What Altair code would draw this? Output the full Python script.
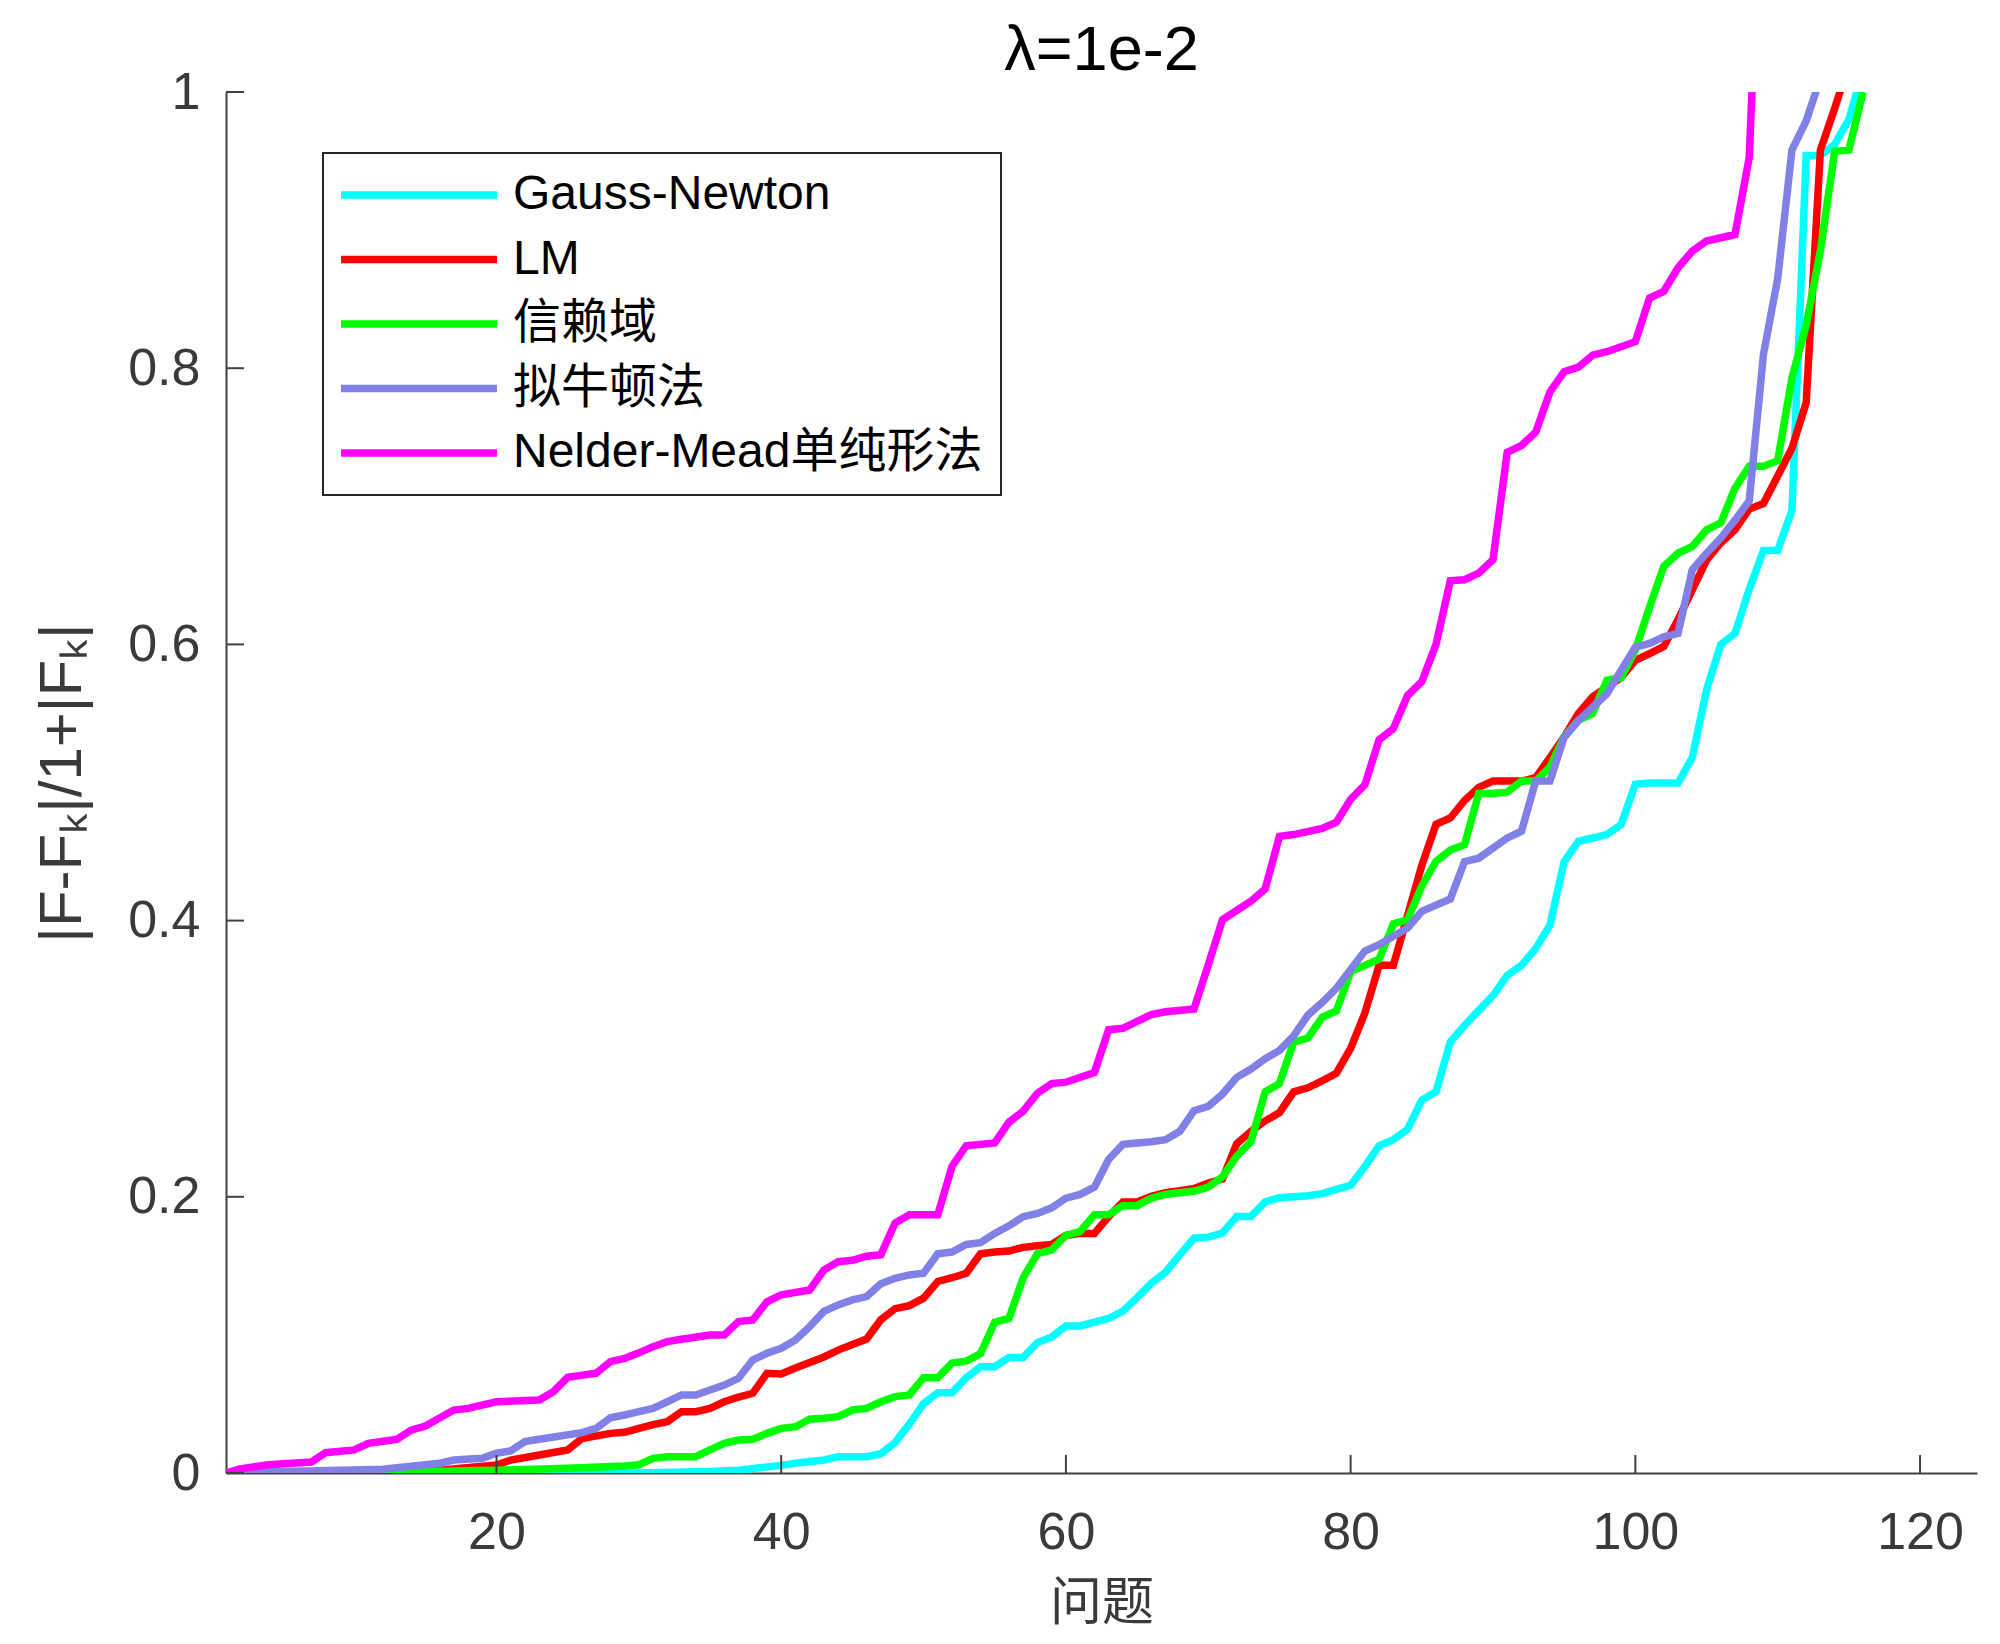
import altair as alt
import pandas as pd

TITLE = "λ=1e-2"
X_TITLE = "问题"
Y_TITLE = "|F-Fₖ|/1+|Fₖ|"
NAMES = ["Gauss-Newton", "LM", "信赖域", "拟牛顿法", "Nelder-Mead单纯形法"]
COLORS = ["#00FFFF", "#FF0000", "#00FF00", "#8080E6", "#FF00FF"]
X_DOMAIN = [1, 124]
Y_DOMAIN = [0, 1]
X_TICKS = [20, 40, 60, 80, 100, 120]
Y_TICKS = [0, 0.2, 0.4, 0.6, 0.8, 1]

GN = [(1, 0), (30, 0), (35, 0.001), (37, 0.002), (40, 0.0055), (41, 0.007), (43, 0.0094),
      (44, 0.0118), (46, 0.0118), (47, 0.014), (48, 0.022), (49, 0.0354), (50, 0.0502),
      (51, 0.0582), (52, 0.0582), (53, 0.069), (54, 0.077), (55, 0.077), (56, 0.0837),
      (57, 0.0837), (58, 0.0944), (59, 0.0985), (60, 0.1065), (61, 0.1065), (62, 0.1092),
      (63, 0.1119), (64, 0.1172), (65, 0.127), (66, 0.1374), (67, 0.1454), (68, 0.158),
      (69, 0.170), (70, 0.1708), (71, 0.1738), (72, 0.1858), (73, 0.1858), (74, 0.1963),
      (75, 0.1993), (77, 0.2008), (78, 0.2023), (79, 0.2054), (80, 0.2083), (81, 0.2219),
      (82, 0.2369), (83, 0.2414), (84, 0.2489), (85, 0.270), (86, 0.276), (87, 0.312),
      (88, 0.324), (89, 0.335), (90, 0.3457), (91, 0.3603), (92, 0.3676), (93, 0.3797),
      (94, 0.3967), (95, 0.4428), (96, 0.4574), (97, 0.4598), (98, 0.4623), (99, 0.4695),
      (100, 0.4987), (101, 0.4996), (103, 0.4996), (104, 0.5181), (105, 0.567), (106, 0.600),
      (107, 0.608), (108, 0.64), (109, 0.668), (110, 0.668), (111, 0.697), (112, 0.954),
      (113, 0.954), (114, 0.962), (115, 0.98), (116, 1.016)]

LM = [(1, 0), (15, 0.001), (16, 0.002), (20, 0.0058), (21, 0.0094), (23, 0.013), (25, 0.0167),
      (26, 0.025), (28, 0.0287), (29, 0.0295), (30, 0.0323), (31, 0.035), (32, 0.0372),
      (33, 0.0444), (34, 0.0444), (35, 0.0468), (36, 0.0516), (37, 0.055), (38, 0.0577),
      (39, 0.0722), (40, 0.0717), (41, 0.076), (42, 0.080), (43, 0.084), (44, 0.089),
      (45, 0.093), (46, 0.097), (47, 0.111), (48, 0.119), (49, 0.1212), (50, 0.1266),
      (51, 0.1387), (52, 0.1414), (53, 0.1446), (54, 0.1588), (55, 0.160), (56, 0.1607),
      (57, 0.1634), (58, 0.1645), (59, 0.1655), (60, 0.172), (61, 0.1735), (62, 0.1735),
      (63, 0.1856), (64, 0.1963), (65, 0.1963), (66, 0.2004), (67, 0.203), (68, 0.2045),
      (69, 0.206), (70, 0.2099), (71, 0.2129), (72, 0.2384), (73, 0.2474), (74, 0.255),
      (75, 0.2609), (76, 0.276), (77, 0.2789), (78, 0.284), (79, 0.2895), (80, 0.3075),
      (81, 0.333), (82, 0.3676), (83, 0.3676), (84, 0.4036), (85, 0.44), (86, 0.4697),
      (87, 0.4743), (88, 0.487), (89, 0.4965), (90, 0.501), (91, 0.501), (92, 0.501),
      (93, 0.5035), (94, 0.518), (95, 0.533), (96, 0.55), (97, 0.562), (98, 0.569),
      (99, 0.576), (100, 0.5885), (101, 0.5934), (102, 0.5985), (103, 0.618), (104, 0.6395),
      (105, 0.661), (106, 0.6735), (107, 0.683), (108, 0.698), (109, 0.702), (110, 0.722),
      (111, 0.742), (112, 0.775), (113, 0.958), (114, 0.988), (115, 1.02)]

TR = [(1, 0), (10, 0), (15, 0.001), (20, 0.002), (25, 0.0035), (29, 0.005), (30, 0.006),
      (31, 0.0106), (32, 0.0118), (34, 0.0118), (35, 0.0167), (36, 0.0215), (37, 0.0239),
      (38, 0.0244), (39, 0.0287), (40, 0.0323), (41, 0.0335), (42, 0.0389), (43, 0.0396),
      (44, 0.0408), (45, 0.0456), (46, 0.0468), (47, 0.0516), (48, 0.0553), (49, 0.0565),
      (50, 0.069), (51, 0.069), (52, 0.0797), (53, 0.081), (54, 0.0864), (55, 0.1092),
      (56, 0.1119), (57, 0.1414), (58, 0.1588), (59, 0.1615), (60, 0.172), (61, 0.1749),
      (62, 0.187), (63, 0.187), (64, 0.1936), (65, 0.1936), (66, 0.199), (67, 0.2017),
      (68, 0.203), (69, 0.204), (70, 0.207), (71, 0.2144), (72, 0.2294), (73, 0.2399),
      (74, 0.276), (75, 0.282), (76, 0.312), (77, 0.315), (78, 0.330), (79, 0.3345),
      (80, 0.363), (81, 0.3676), (82, 0.372), (83, 0.3976), (84, 0.4006), (85, 0.425),
      (86, 0.443), (87, 0.451), (88, 0.455), (89, 0.492), (90, 0.492), (91, 0.493),
      (92, 0.501), (93, 0.501), (94, 0.511), (95, 0.533), (96, 0.545), (97, 0.55),
      (98, 0.574), (99, 0.576), (100, 0.596), (101, 0.627), (102, 0.6565), (103, 0.666),
      (104, 0.671), (105, 0.683), (106, 0.688), (107, 0.713), (108, 0.729), (109, 0.729),
      (110, 0.733), (111, 0.793), (112, 0.831), (113, 0.885), (114, 0.957), (115, 0.958),
      (116, 1.0)]

QN = [(1, 0), (12, 0.0027), (16, 0.007), (17, 0.0094), (19, 0.0106), (20, 0.0143), (21, 0.016),
      (22, 0.0227), (23, 0.0244), (26, 0.0292), (27, 0.0323), (28, 0.040), (29, 0.042),
      (30, 0.0445), (31, 0.0468), (32, 0.0516), (33, 0.0565), (34, 0.0565), (35, 0.0601),
      (36, 0.0637), (37, 0.0686), (38, 0.0818), (39, 0.0867), (40, 0.0903), (41, 0.0963),
      (42, 0.106), (43, 0.117), (44, 0.1217), (45, 0.1253), (46, 0.1277), (47, 0.137),
      (48, 0.141), (49, 0.1434), (50, 0.1446), (51, 0.1588), (52, 0.160), (53, 0.1655),
      (54, 0.1668), (55, 0.1735), (56, 0.179), (57, 0.1856), (58, 0.188), (59, 0.192),
      (60, 0.199), (61, 0.2017), (62, 0.207), (63, 0.227), (64, 0.238), (65, 0.239),
      (66, 0.2399), (67, 0.2414), (68, 0.2474), (69, 0.2624), (70, 0.2655), (71, 0.2744),
      (72, 0.2865), (73, 0.2925), (74, 0.300), (75, 0.306), (76, 0.3165), (77, 0.3316),
      (78, 0.3406), (79, 0.351), (80, 0.3646), (81, 0.378), (82, 0.3826), (83, 0.3886),
      (84, 0.3946), (85, 0.4067), (86, 0.4112), (87, 0.4156), (88, 0.4427), (89, 0.4452),
      (90, 0.4525), (91, 0.4598), (92, 0.4647), (93, 0.501), (94, 0.501), (95, 0.5327),
      (96, 0.5448), (97, 0.5545), (98, 0.5642), (99, 0.5812), (100, 0.598), (101, 0.6007),
      (102, 0.6055), (103, 0.608), (104, 0.654), (105, 0.666), (106, 0.677), (107, 0.69),
      (108, 0.704), (109, 0.81), (110, 0.865), (111, 0.958), (112, 0.979), (113, 1.01)]

NM = [(1, 0), (2, 0.003), (4, 0.006), (7, 0.008), (8, 0.0147), (10, 0.0167), (11, 0.0215),
      (13, 0.0244), (14, 0.031), (15, 0.034), (17, 0.0456), (18, 0.0468), (20, 0.0516),
      (23, 0.0529), (24, 0.0589), (25, 0.0693), (27, 0.0722), (28, 0.0806), (29, 0.083),
      (30, 0.087), (31, 0.0915), (32, 0.0951), (33, 0.0968), (35, 0.0999), (36, 0.0999),
      (37, 0.1096), (38, 0.1108), (39, 0.124), (40, 0.129), (42, 0.1325), (43, 0.147),
      (44, 0.153), (45, 0.154), (46, 0.157), (47, 0.158), (48, 0.181), (49, 0.187),
      (51, 0.187), (52, 0.222), (53, 0.237), (55, 0.239), (56, 0.254), (57, 0.262),
      (58, 0.275), (59, 0.282), (60, 0.283), (62, 0.290), (63, 0.321), (64, 0.322),
      (66, 0.332), (67, 0.334), (69, 0.336), (70, 0.368), (71, 0.4006), (73, 0.414),
      (74, 0.423), (75, 0.461), (76, 0.4623), (78, 0.4668), (79, 0.4712), (80, 0.4878),
      (81, 0.4983), (82, 0.531), (83, 0.539), (84, 0.563), (85, 0.573), (86, 0.60),
      (87, 0.646), (88, 0.6468), (89, 0.6516), (90, 0.6613), (91, 0.7391), (92, 0.744),
      (93, 0.7537), (94, 0.7828), (95, 0.7974), (96, 0.8008), (97, 0.8095), (98, 0.8119),
      (100, 0.8192), (101, 0.8508), (102, 0.8557), (103, 0.8727), (104, 0.8848),
      (105, 0.8921), (107, 0.8968), (108, 0.9525), (109, 1.2)]

SERIES = [GN, LM, TR, QN, NM]

rows = []
for name, pts in zip(NAMES, SERIES):
    for x, y in pts:
        rows.append({"method": name, "x": x, "y": y})
df = pd.DataFrame(rows)

W, H = 1751, 1381
AX = "#404040"
TXT = "#3a3a3a"
LATIN = "Liberation Sans"
CJK = "Noto Sans CJK SC"
TICK_LEN = 18
LW = 7.5

xscale = alt.Scale(domain=X_DOMAIN, nice=False, zero=False)
yscale = alt.Scale(domain=Y_DOMAIN, nice=False, zero=False)

x_axis = alt.Axis(values=X_TICKS, title=X_TITLE, ticks=False, grid=False,
                  labelFont=LATIN, labelFontSize=52, labelColor=TXT,
                  labelPadding=34, labelFlush=False,
                  titleFont=CJK, titleFontSize=52, titleFontWeight="normal",
                  titleColor=TXT, titlePadding=20,
                  domainColor=AX, domainWidth=2)
y_axis = alt.Axis(values=Y_TICKS, format="~g", title=Y_TITLE, ticks=False, grid=False,
                  labelFont=LATIN, labelFontSize=52, labelColor=TXT,
                  labelPadding=26, labelFlush=False,
                  titleFont=LATIN, titleFontSize=60, titleFontWeight="normal",
                  titleColor=TXT, titlePadding=34,
                  domainColor=AX, domainWidth=2)

lines = alt.Chart(df).mark_line(strokeWidth=LW, clip=True).encode(
    x=alt.X("x:Q", scale=xscale, axis=x_axis),
    y=alt.Y("y:Q", scale=yscale, axis=y_axis),
    color=alt.Color("method:N",
                    scale=alt.Scale(domain=NAMES, range=COLORS),
                    legend=alt.Legend(title=None, orient="none", legendX=97, legendY=61,
                                      symbolType="M-5,0H5", symbolSize=973,
                                      symbolStrokeWidth=LW, symbolOffset=54,
                                      labelOffset=70, labelFont=LATIN + ", " + CJK,
                                      labelFontSize=48, labelColor="black", labelLimit=2000,
                                      padding=18, rowPadding=16.5,
                                      strokeColor="#262626", fillColor="white")),
)

xt = alt.Chart(pd.DataFrame({"x": X_TICKS})).mark_rule(color=AX, strokeWidth=2).encode(
    x=alt.X("x:Q", scale=xscale, axis=x_axis),
    y=alt.value(H), y2=alt.value(H - TICK_LEN),
)
yt = alt.Chart(pd.DataFrame({"y": Y_TICKS})).mark_rule(color=AX, strokeWidth=2).encode(
    y=alt.Y("y:Q", scale=yscale, axis=y_axis),
    x=alt.value(0), x2=alt.value(TICK_LEN),
)

chart = alt.layer(lines, xt, yt).properties(
    width=W, height=H,
    title=alt.TitleParams(text=TITLE, font=LATIN, fontSize=63, fontWeight="normal",
                          color="black", anchor="middle", frame="group", offset=-17),
    autosize=alt.AutoSizeParams(type="none"),
    padding={"left": 218, "top": 84, "right": 15, "bottom": 163},
).configure_view(stroke=None).configure_legend(strokeWidth=2)

chart.save("out.html", embed_options={"renderer": "svg", "actions": False})
